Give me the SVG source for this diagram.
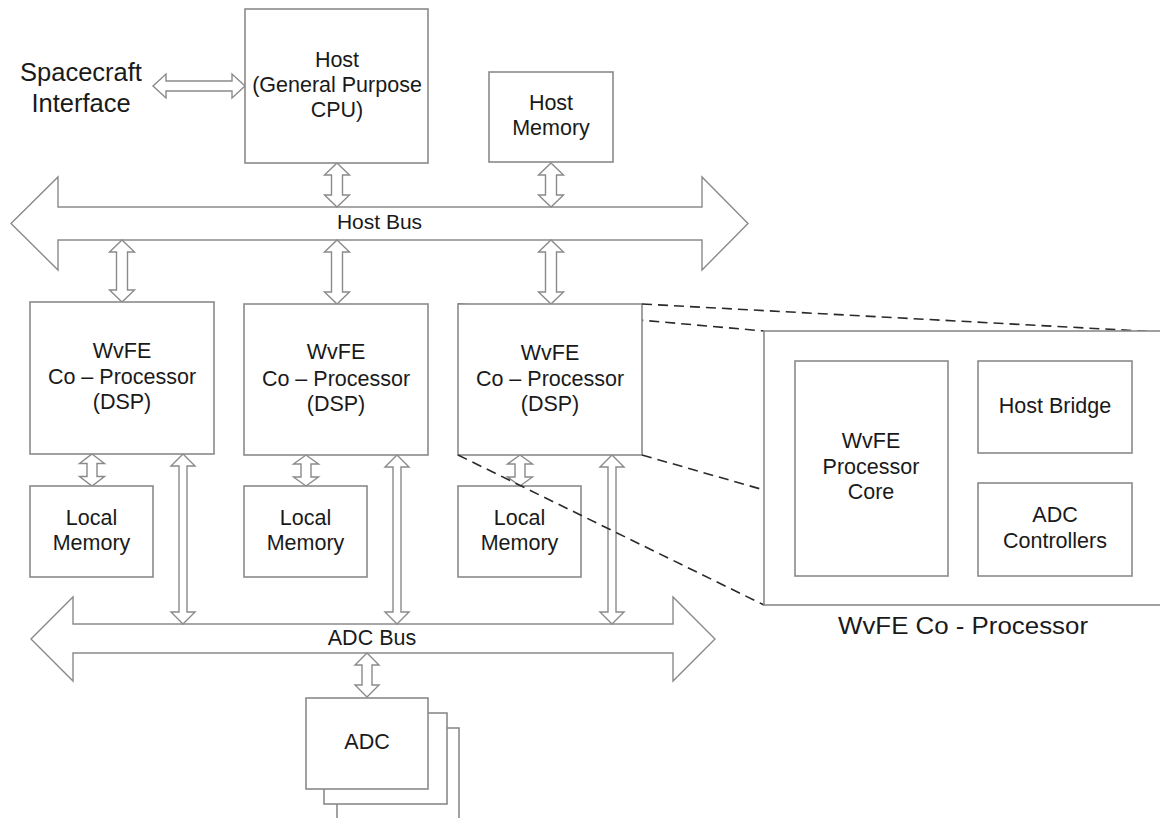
<svg xmlns="http://www.w3.org/2000/svg" width="1160" height="818" viewBox="0 0 1160 818">
<style>
.box{fill:#fff;stroke:#8a8a8a;stroke-width:1.6}
.arr{fill:#fff;stroke:#8a8a8a;stroke-width:1.4;stroke-linejoin:miter}
.dash{fill:none;stroke:#2a2a2a;stroke-width:1.6;stroke-dasharray:10 6}
text{font-family:"Liberation Sans",Arial,sans-serif;fill:#1a1a1a;text-anchor:middle}
.t{font-size:21.5px}
.tr{font-size:21.5px}
</style>
<rect width="1160" height="818" fill="#fff"/>

<!-- connectors -->
<g id="connectors">
  <!-- Host bus -->
  <path class="arr" d="M11,223.5 L58,177 L58,207 L702,207 L702,177 L748,223.5 L702,270 L702,240 L58,240 L58,270 Z"/>
  <!-- ADC bus -->
  <path class="arr" d="M31,639 L73,597 L73,624 L673,624 L673,597 L715,639 L673,681 L673,653 L73,653 L73,681 Z"/>
  <!-- spacecraft interface arrow -->
  <path class="arr" d="M153,86 L166,74 L166,81 L232,81 L232,74 L245,86 L232,98 L232,91 L166,91 L166,98 Z"/>
  <!-- Host to bus -->
  <path class="arr" d="M337,163 L349.5,175 L342.5,175 L342.5,195 L349.5,195 L337,207 L324.5,195 L331.5,195 L331.5,175 L324.5,175 Z"/>
  <!-- Host memory to bus -->
  <path class="arr" d="M551,163 L563.5,175 L556.5,175 L556.5,195 L563.5,195 L551,207 L538.5,195 L545.5,195 L545.5,175 L538.5,175 Z"/>
  <!-- bus to co-processors -->
  <path class="arr" d="M122,240 L134.5,252 L127.5,252 L127.5,290 L134.5,290 L122,302 L109.5,290 L116.5,290 L116.5,252 L109.5,252 Z"/>
  <path class="arr" d="M337,240 L349.5,252 L342.5,252 L342.5,292 L349.5,292 L337,304 L324.5,292 L331.5,292 L331.5,252 L324.5,252 Z"/>
  <path class="arr" d="M551,240 L563.5,252 L556.5,252 L556.5,292 L563.5,292 L551,304 L538.5,292 L545.5,292 L545.5,252 L538.5,252 Z"/>
  <!-- co-processor to local memory -->
  <path class="arr" d="M92,454 L104.5,463.5 L97,463.5 L97,476.5 L104.5,476.5 L92,486 L79.5,476.5 L87,476.5 L87,463.5 L79.5,463.5 Z"/>
  <path class="arr" d="M306,455 L318.5,464 L311,464 L311,477 L318.5,477 L306,486 L293.5,477 L301,477 L301,464 L293.5,464 Z"/>
  <path class="arr" d="M520,455 L532.5,464 L525,464 L525,477 L532.5,477 L520,486 L507.5,477 L515,477 L515,464 L507.5,464 Z"/>
  <!-- co-processor to ADC bus -->
  <path class="arr" d="M183,454 L195,466 L187,466 L187,612 L195,612 L183,624 L171,612 L179,612 L179,466 L171,466 Z"/>
  <path class="arr" d="M397,455 L409,467 L401,467 L401,612 L409,612 L397,624 L385,612 L393,612 L393,467 L385,467 Z"/>
  <path class="arr" d="M612,455 L624,467 L616,467 L616,612 L624,612 L612,624 L600,612 L608,612 L608,467 L600,467 Z"/>
  <!-- ADC bus to ADC -->
  <path class="arr" d="M367,653 L379,665 L372,665 L372,685 L379,685 L367,697 L355,685 L362,685 L362,665 L355,665 Z"/>
  <!-- zoom dashed line hidden behind box -->
  <line class="dash" x1="458" y1="304" x2="764" y2="331"/>
</g>

<text x="372" y="645" style="font-size:21.5px">ADC Bus</text>
<text x="379.5" y="229" style="font-size:21px">Host Bus</text>

<g id="spacecraft">
  <text x="81" y="81" style="font-size:25.5px">Spacecraft</text>
  <text x="81" y="112" style="font-size:25.5px">Interface</text>
</g>

<g id="host">
  <rect class="box" x="245" y="9" width="183" height="154"/>
  <text class="t" x="337" y="67">Host</text>
  <text class="t" x="337" y="92">(General Purpose</text>
  <text class="t" x="337" y="117">CPU)</text>
</g>

<g id="host-memory">
  <rect class="box" x="489" y="72" width="124" height="90"/>
  <text class="t" x="551" y="110">Host</text>
  <text class="t" x="551" y="135">Memory</text>
</g>

<g id="coproc1">
  <rect class="box" x="30" y="302" width="184" height="152"/>
  <text class="t" x="122" y="358">WvFE</text>
  <text class="t" x="122" y="384">Co – Processor</text>
  <text class="t" x="122" y="409">(DSP)</text>
</g>
<g id="coproc2">
  <rect class="box" x="244" y="304" width="184" height="151"/>
  <text class="t" x="336" y="359">WvFE</text>
  <text class="t" x="336" y="386">Co – Processor</text>
  <text class="t" x="336" y="411">(DSP)</text>
</g>
<g id="coproc3">
  <rect class="box" x="458" y="304" width="184" height="151"/>
  <text class="t" x="550" y="360">WvFE</text>
  <text class="t" x="550" y="386">Co – Processor</text>
  <text class="t" x="550" y="411">(DSP)</text>
</g>

<g id="localmem1">
  <rect class="box" x="30" y="486" width="123" height="91"/>
  <text class="t" x="91.5" y="525">Local</text>
  <text class="t" x="91.5" y="550">Memory</text>
</g>
<g id="localmem2">
  <rect class="box" x="244" y="486" width="123" height="91"/>
  <text class="t" x="305.5" y="525">Local</text>
  <text class="t" x="305.5" y="550">Memory</text>
</g>
<g id="localmem3">
  <rect class="box" x="458" y="486" width="123" height="91"/>
  <text class="t" x="519.5" y="525">Local</text>
  <text class="t" x="519.5" y="550">Memory</text>
</g>

<g id="adc">
  <rect class="box" x="337" y="728" width="122" height="120"/>
  <rect class="box" x="324" y="713" width="123" height="91"/>
  <rect class="box" x="306" y="698" width="122" height="91"/>
  <text class="t" x="367" y="749">ADC</text>
</g>

<g id="zoom-lines">
  <line class="dash" x1="642" y1="304" x2="1160" y2="332"/>
  <line class="dash" x1="642" y1="455" x2="764" y2="490"/>
  <line class="dash" x1="458" y1="455" x2="764" y2="605"/>
</g>

<g id="coproc-detail">
  <rect class="box" x="764" y="331" width="420" height="274"/>
  <text x="963" y="634" style="font-size:23px" textLength="250" lengthAdjust="spacingAndGlyphs">WvFE Co - Processor</text>
</g>
<g id="processor-core">
  <rect class="box" x="795" y="361" width="153" height="215"/>
  <text class="tr" x="871" y="448">WvFE</text>
  <text class="tr" x="871" y="474">Processor</text>
  <text class="tr" x="871" y="499">Core</text>
</g>
<g id="host-bridge">
  <rect class="box" x="978" y="361" width="154" height="92"/>
  <text class="tr" x="1055" y="413">Host Bridge</text>
</g>
<g id="adc-controllers">
  <rect class="box" x="978" y="483" width="154" height="93"/>
  <text class="tr" x="1055" y="522">ADC</text>
  <text class="tr" x="1055" y="548">Controllers</text>
</g>
</svg>
